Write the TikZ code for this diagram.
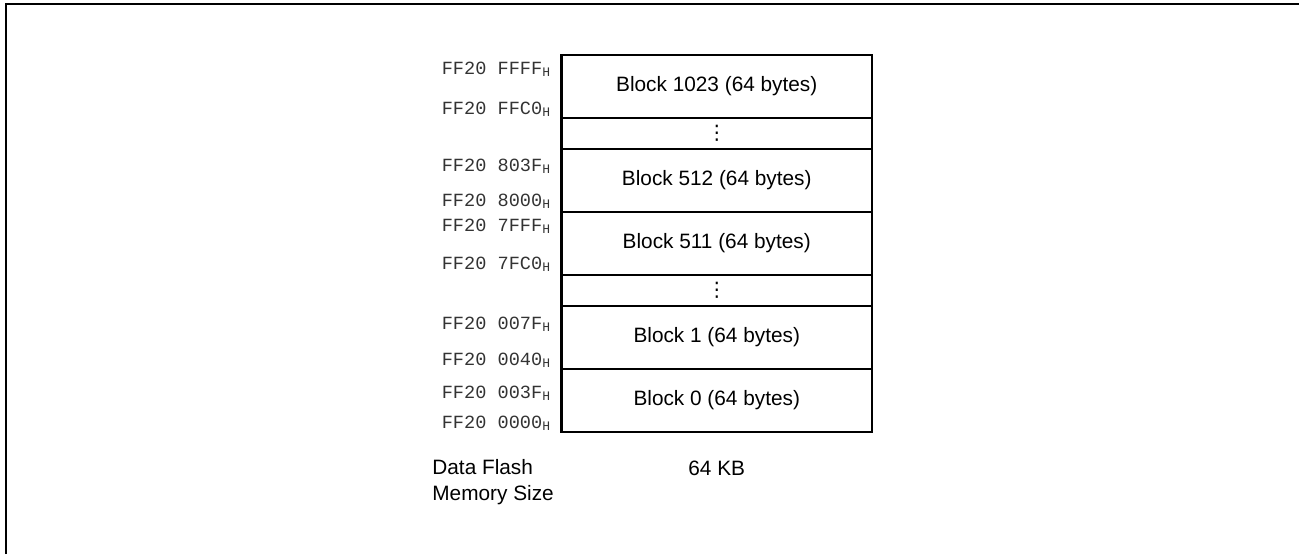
\documentclass[tikz,border=0pt]{standalone}
\usepackage{fontspec}
\setmainfont{Liberation Sans}
\setmonofont{Liberation Mono}
\newfontfamily\symfont{DejaVu Sans}
\usetikzlibrary{positioning}

\begin{document}
\begin{tikzpicture}[x=0.5pt, y=-0.5pt, node distance=0pt,
        block/.style={rectangle, draw, line width=1.2pt, minimum width=155.25pt, minimum height=31.5pt, inner sep=0pt, outer sep=0pt, font=\fontsize{10.4}{12.5}\selectfont},
        gap/.style={block, minimum height=15.5pt, font=\symfont\fontsize{10}{12}\selectfont},
        addr/.style={inner sep=0pt, text=black!80, font=\ttfamily\fontsize{9.3}{11}\selectfont},
        caption/.style={inner sep=0pt, align=left, font=\fontsize{10.4}{13}\selectfont}]

    \useasboundingbox (0,0) rectangle (1299,554);
    \draw[line width=1pt] (6,554) -- (6,4) -- (1299,4);

    \node[block, anchor=north west] (blk1023) at (561.5,55) {Block 1023 (64 bytes)};
    \node[gap, below=of blk1023] (gap1) {⋮};
    \node[block, below=of gap1] (blk512) {Block 512 (64 bytes)};
    \node[block, below=of blk512] (blk511) {Block 511 (64 bytes)};
    \node[gap, below=of blk511] (gap2) {⋮};
    \node[block, below=of gap2] (blk1) {Block 1 (64 bytes)};
    \node[block, below=of blk1] (blk0) {Block 0 (64 bytes)};

    \node[addr, anchor=east] (a1023hi) at ([xshift=-5pt, yshift=-7pt]blk1023.north west) {FF20 FFFF\textsubscript{H}};
    \node[addr, anchor=east] (a1023lo) at ([xshift=-5pt, yshift=4.5pt]blk1023.south west) {FF20 FFC0\textsubscript{H}};
    \node[addr, anchor=east] (a512hi) at ([xshift=-5pt, yshift=-8.5pt]blk512.north west) {FF20 803F\textsubscript{H}};
    \node[addr, anchor=east] (a512lo) at ([xshift=-5pt, yshift=5.5pt]blk512.south west) {FF20 8000\textsubscript{H}};
    \node[addr, anchor=east] (a511hi) at ([xshift=-5pt, yshift=-7pt]blk511.north west) {FF20 7FFF\textsubscript{H}};
    \node[addr, anchor=east] (a511lo) at ([xshift=-5pt, yshift=5.5pt]blk511.south west) {FF20 7FC0\textsubscript{H}};
    \node[addr, anchor=east] (a1hi) at ([xshift=-5pt, yshift=-9pt]blk1.north west) {FF20 007F\textsubscript{H}};
    \node[addr, anchor=east] (a1lo) at ([xshift=-5pt, yshift=4.5pt]blk1.south west) {FF20 0040\textsubscript{H}};
    \node[addr, anchor=east] (a0hi) at ([xshift=-5pt, yshift=-12pt]blk0.north west) {FF20 003F\textsubscript{H}};
    \node[addr, anchor=east] (a0lo) at ([xshift=-5pt, yshift=4.5pt]blk0.south west) {FF20 0000\textsubscript{H}};

    \node[caption, anchor=north west] (sizename) at ([xshift=-64.75pt, yshift=-13.75pt]blk0.south west) {Data Flash\\Memory Size};
    \node[caption, anchor=north] (sizeval) at ([yshift=-14.5pt]blk0.south) {64 KB};
\end{tikzpicture}
\end{document}
